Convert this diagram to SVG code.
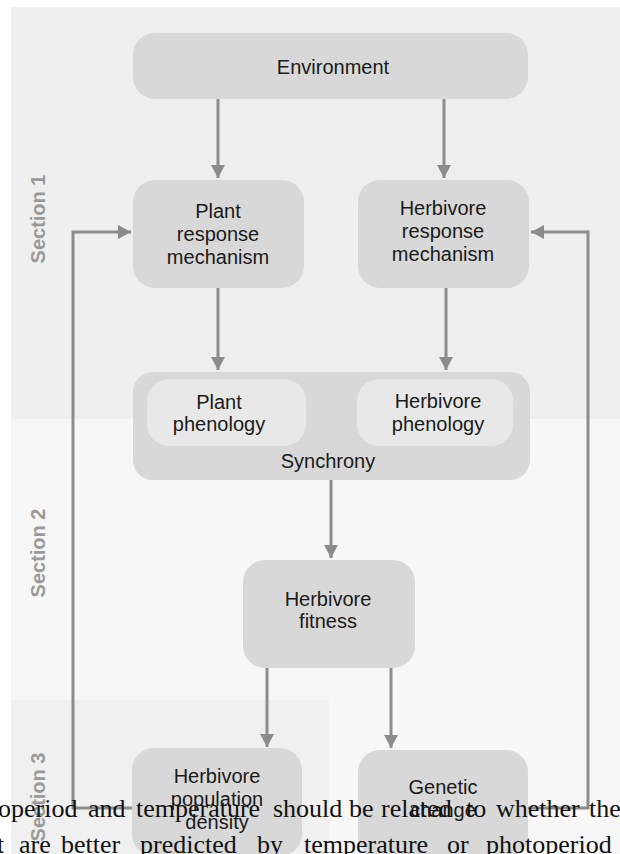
<svg xmlns="http://www.w3.org/2000/svg" width="620" height="854" viewBox="0 0 620 854">
<defs>
<style>
.box{fill:#d8d8d8}
.inner{fill:#e8e8e8}
.t{font-family:"Liberation Sans",Arial,sans-serif;font-size:20px;fill:#1a1a1a;text-anchor:middle}
.sec{font-family:"Liberation Sans",Arial,sans-serif;font-size:20px;font-weight:bold;fill:#9a9a9a;text-anchor:middle}
.c{stroke:#8c8c8c;stroke-width:3;fill:none}
.page{font-family:"Liberation Serif","Times New Roman",serif;font-size:26px;fill:#111}
</style>
<marker id="ah" markerUnits="userSpaceOnUse" markerWidth="14" markerHeight="14" refX="13" refY="7" orient="auto">
<path d="M0,0 L13,7 L0,14 z" fill="#8c8c8c"/>
</marker>
</defs>
<rect x="0" y="0" width="620" height="854" fill="#ffffff"/>
<g id="sections">
<rect x="11" y="7" width="609" height="412" fill="#efefef"/>
<rect x="11" y="419" width="609" height="435" fill="#f7f7f7"/>
<rect x="11" y="700" width="318" height="154" fill="#f0f0f0"/>
<text class="sec" transform="translate(45,219) rotate(-90)">Section 1</text>
<text class="sec" transform="translate(45,553) rotate(-90)">Section 2</text>
<text class="sec" transform="translate(45,797) rotate(-90)">Section 3</text>
</g>
<g id="connectors">
<line class="c" x1="218" y1="99" x2="218" y2="178" marker-end="url(#ah)"/>
<line class="c" x1="444" y1="99" x2="444" y2="178" marker-end="url(#ah)"/>
<line class="c" x1="218" y1="288" x2="218" y2="370" marker-end="url(#ah)"/>
<line class="c" x1="446" y1="288" x2="446" y2="370" marker-end="url(#ah)"/>
<line class="c" x1="331" y1="480" x2="331" y2="558" marker-end="url(#ah)"/>
<line class="c" x1="267" y1="668" x2="267" y2="747" marker-end="url(#ah)"/>
<line class="c" x1="391" y1="668" x2="391" y2="748" marker-end="url(#ah)"/>
<polyline class="c" points="133,808 73,808 73,232 131,232" marker-end="url(#ah)"/>
<polyline class="c" points="528,808 588,808 588,232 531,232" marker-end="url(#ah)"/>
</g>
<g id="environment">
<rect class="box" x="133" y="33" width="395" height="66" rx="22"/>
<text class="t" x="333" y="74">Environment</text>
</g>
<g id="plant-response">
<rect class="box" x="133" y="180" width="171" height="108" rx="22"/>
<text class="t" x="218" y="218">Plant</text>
<text class="t" x="218" y="241">response</text>
<text class="t" x="218" y="264">mechanism</text>
</g>
<g id="herbivore-response">
<rect class="box" x="358" y="180" width="171" height="108" rx="22"/>
<text class="t" x="443" y="215">Herbivore</text>
<text class="t" x="443" y="238">response</text>
<text class="t" x="443" y="261">mechanism</text>
</g>
<g id="synchrony">
<rect class="box" x="133" y="372" width="397" height="108" rx="20"/>
<text class="t" x="328" y="468">Synchrony</text>
</g>
<g id="plant-phenology">
<rect class="inner" x="147" y="379" width="159" height="67" rx="22"/>
<text class="t" x="219" y="409">Plant</text>
<text class="t" x="219" y="431">phenology</text>
</g>
<g id="herbivore-phenology">
<rect class="inner" x="357" y="379" width="156" height="67" rx="22"/>
<text class="t" x="438" y="408">Herbivore</text>
<text class="t" x="438" y="431">phenology</text>
</g>
<g id="herbivore-fitness">
<rect class="box" x="243" y="560" width="172" height="108" rx="22"/>
<text class="t" x="328" y="606">Herbivore</text>
<text class="t" x="328" y="628">fitness</text>
</g>
<g id="population-density">
<rect class="box" x="132" y="748" width="170" height="108" rx="22"/>
<text class="t" x="217" y="783">Herbivore</text>
<text class="t" x="217" y="806">population</text>
<text class="t" x="217" y="829">density</text>
</g>
<g id="genetic-change">
<rect class="box" x="358" y="750" width="170" height="108" rx="22"/>
<text class="t" x="443" y="794">Genetic</text>
<text class="t" x="443" y="817">change</text>
</g>
<g id="page-text">
<text class="page" y="817"><tspan x="-2">operiod</tspan><tspan x="88">and</tspan><tspan x="136">temperature</tspan><tspan x="273">should</tspan><tspan x="349">be</tspan><tspan x="381">related</tspan><tspan x="466">to</tspan><tspan x="496">whether</tspan><tspan x="589">the</tspan></text>
<text class="page" y="853"><tspan x="-3">t</tspan><tspan x="19">are</tspan><tspan x="61">better</tspan><tspan x="140">predicted</tspan><tspan x="257">by</tspan><tspan x="304">temperature</tspan><tspan x="447">or</tspan><tspan x="486">photoperiod</tspan></text>
</g>
</svg>
